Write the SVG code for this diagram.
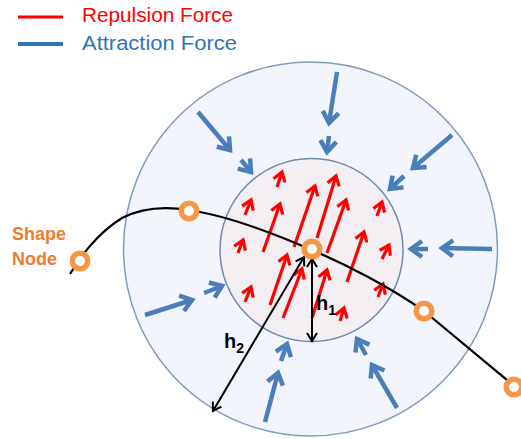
<svg xmlns="http://www.w3.org/2000/svg" width="521" height="439" viewBox="0 0 521 439">
<style>
.red{stroke:#FF0000;stroke-width:3.2;fill:none;marker-end:url(#rh)}
.blue{stroke:#4A7EBB;stroke-width:4.5;fill:none;marker-end:url(#bh)}
.dim{stroke:#000;stroke-width:2;fill:none;marker-start:url(#kh);marker-end:url(#kh)}
.node{fill:#fff;stroke:#F79646;stroke-width:5.5}
.lbl{font-family:"Liberation Sans",Arial,sans-serif;font-size:20px}
.hl{font-family:"Liberation Sans",Arial,sans-serif;font-weight:bold;font-size:20px;fill:#000}
.hs{font-size:14px}
.sn{font-family:"Liberation Sans",Arial,sans-serif;font-weight:bold;font-size:18px;fill:#ED7D31}
</style>
<defs>
<marker id="rh" markerUnits="userSpaceOnUse" markerWidth="24" markerHeight="24" viewBox="-12 -12 24 24" refX="0" refY="0" orient="auto">
<path d="M-9,-6 L0,0 L-9,6" fill="none" stroke="#FF0000" stroke-width="3.2"/>
</marker>
<marker id="bh" markerUnits="userSpaceOnUse" markerWidth="30" markerHeight="30" viewBox="-15 -15 30 30" refX="0" refY="0" orient="auto">
<path d="M-11,-8 L0,0 L-11,8" fill="none" stroke="#4A7EBB" stroke-width="4.5"/>
</marker>
<marker id="kh" markerUnits="userSpaceOnUse" markerWidth="20" markerHeight="20" viewBox="-10 -10 20 20" refX="0" refY="0" orient="auto-start-reverse">
<path d="M-8,-5 L0,0 L-8,5" fill="none" stroke="#000" stroke-width="2"/>
</marker>
</defs>
<rect width="521" height="439" fill="#fff"/>
<g id="legend">
<line x1="18" y1="17" x2="63" y2="17" stroke="#FF0000" stroke-width="3"/>
<text class="lbl" x="82" y="22" fill="#FF0000" textLength="151" lengthAdjust="spacingAndGlyphs">Repulsion Force</text>
<line x1="18" y1="44" x2="63" y2="44" stroke="#2E75B6" stroke-width="4"/>
<text class="lbl" x="82" y="50" fill="#2E75B6" textLength="155" lengthAdjust="spacingAndGlyphs">Attraction Force</text>
</g>
<g id="outer-region">
<circle cx="310.5" cy="249" r="187" fill="#F2F6FC" stroke="#7F9BC0" stroke-width="1.5"/>
</g>
<g id="inner-region">
<circle cx="311.5" cy="250" r="91.5" fill="#F3EEF1" stroke="#6F88AB" stroke-width="1.5"/>
</g>
<g id="attraction-forces">
<line class="blue" x1="337" y1="72" x2="329" y2="123"/>
<line class="blue" x1="329" y1="136" x2="327" y2="152"/>
<line class="blue" x1="198" y1="112" x2="230" y2="150"/>
<line class="blue" x1="241" y1="160" x2="251" y2="172"/>
<line class="blue" x1="452" y1="135" x2="413" y2="168"/>
<line class="blue" x1="404" y1="176" x2="390" y2="189"/>
<line class="blue" x1="492" y1="249" x2="442" y2="248"/>
<line class="blue" x1="428" y1="249" x2="411" y2="249"/>
<line class="blue" x1="145" y1="315" x2="192" y2="300"/>
<line class="blue" x1="204" y1="293" x2="222" y2="286"/>
<line class="blue" x1="265" y1="422" x2="278" y2="373"/>
<line class="blue" x1="281" y1="361" x2="287" y2="344"/>
<line class="blue" x1="397" y1="408" x2="372" y2="365"/>
<line class="blue" x1="366" y1="355" x2="357" y2="339"/>
</g>
<g id="repulsion-forces">
<line class="red" x1="277" y1="187" x2="282" y2="172"/>
<line class="red" x1="245" y1="215" x2="251" y2="200"/>
<line class="red" x1="263" y1="252" x2="280" y2="204"/>
<line class="red" x1="294" y1="247" x2="315" y2="186"/>
<line class="red" x1="317" y1="238" x2="336" y2="176"/>
<line class="red" x1="327" y1="253" x2="346" y2="200"/>
<line class="red" x1="377" y1="216" x2="382" y2="202"/>
<line class="red" x1="238" y1="253" x2="243" y2="240"/>
<line class="red" x1="347" y1="282" x2="364" y2="232"/>
<line class="red" x1="382" y1="259" x2="389" y2="245"/>
<line class="red" x1="245" y1="302" x2="251" y2="287"/>
<line class="red" x1="270" y1="305" x2="287" y2="255"/>
<line class="red" x1="283" y1="318" x2="302" y2="269"/>
<line class="red" x1="312" y1="318" x2="327" y2="270"/>
<line class="red" x1="378" y1="297" x2="383" y2="284"/>
<line class="red" x1="340" y1="321" x2="344" y2="308"/>
</g>
<g id="connectors">
<path d="M70,274 C80,258 95,235 122,218 C145,206 170,207 189,210 C230,216 275,234 312,250 C345,264 390,287 424,311 L525,395" fill="none" stroke="#000" stroke-width="2.2"/>
</g>
<g id="dimensions">
<line class="dim" x1="312" y1="259" x2="312" y2="341"/>
<line class="dim" x1="304" y1="257" x2="213" y2="411"/>
<text class="hl" x="316" y="310">h<tspan class="hs" dy="5">1</tspan></text>
<text class="hl" x="224" y="348">h<tspan class="hs" dy="5">2</tspan></text>
</g>
<g id="node-left"><circle class="node" cx="80" cy="261" r="7.8"/></g>
<g id="node-top"><circle class="node" cx="189" cy="211" r="7.8"/></g>
<g id="node-center"><circle class="node" cx="312" cy="249" r="7.8"/></g>
<g id="node-right"><circle class="node" cx="424" cy="311" r="7.8"/></g>
<g id="node-edge"><circle class="node" cx="514" cy="387" r="7.8"/></g>
<g id="shape-node-label">
<text class="sn" x="12" y="240">Shape</text>
<text class="sn" x="12" y="265">Node</text>
</g>
</svg>
